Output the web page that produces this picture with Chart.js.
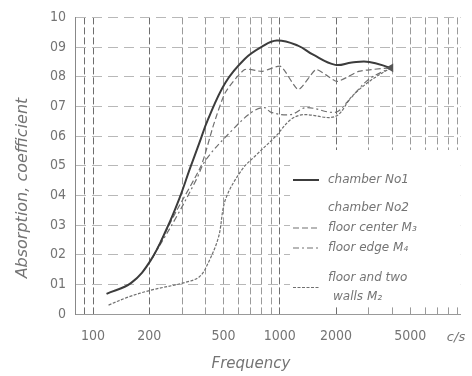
<!DOCTYPE html>
<html>
<head>
<meta charset="utf-8">
<script src="https://cdn.jsdelivr.net/npm/chart.js@4.4.1/dist/chart.umd.min.js"></script>
<style>
  html, body { margin: 0; padding: 0; background: #fff; }
  #wrap { width: 472px; height: 376px; }
</style>
</head>
<body>
<div id="wrap"><canvas id="absorptionChart" width="472" height="376"></canvas></div>
<script>
// Frequencies in c/s, values are absorption coefficients
const chamber1Freq = [118, 160, 203, 249, 290, 330, 370, 412, 511, 649, 796, 964, 1250, 1500, 1982, 2427, 3013, 3928];
const chamber1Abs  = [0.068, 0.105, 0.18, 0.29, 0.39, 0.49, 0.575, 0.655, 0.78, 0.86, 0.90, 0.922, 0.905, 0.875, 0.84, 0.848, 0.85, 0.83];

const centerFreq = [208, 281, 379, 443, 511, 649, 805, 1011, 1256, 1559, 1758, 2030, 2641, 3090, 3928];
const centerAbs  = [0.19, 0.35, 0.50, 0.64, 0.747, 0.824, 0.818, 0.835, 0.757, 0.824, 0.807, 0.784, 0.818, 0.824, 0.83];

const edgeFreq = [208, 281, 357, 402, 556, 707, 826, 898, 1141, 1384, 1982, 2286, 2977, 3928];
const edgeAbs  = [0.19, 0.33, 0.453, 0.52, 0.62, 0.68, 0.696, 0.68, 0.672, 0.696, 0.68, 0.713, 0.79, 0.83];

const wallsFreq = [121, 154, 203, 305, 370, 412, 470, 511, 626, 750, 953, 1141, 1334, 1982, 2428, 3013, 3928];
const wallsAbs  = [0.03, 0.057, 0.08, 0.105, 0.125, 0.17, 0.26, 0.385, 0.486, 0.537, 0.60, 0.655, 0.672, 0.666, 0.733, 0.784, 0.83];

const xGridFreqs = [80, 90, 100, 200, 300, 400, 500, 600, 700, 800, 900, 1000,
                    2000, 3000, 4000, 5000, 6000, 7000, 8000, 9000];
const xLabelled = [100, 200, 500, 1000, 2000, 5000];
const xStrongLines = [90, 100, 200, 1000, 2000];
const yTickLabels = ['0', '01', '02', '03', '04', '05', '06', '07', '08', '09', '10'];
const legendHeading = 'chamber No2';

const FONT = "'Liberation Sans Narrow', 'DejaVu Sans Condensed', sans-serif";
const HAND = "'DejaVu Sans', sans-serif";
const INK = '#747474';

function toPoints(freqs, values) {
    return freqs.map((f, i) => ({ x: f, y: values[i] }));
}

// titles, in-plot legend and the blank panel behind it
const annotations = {
    id: 'annotations',
    beforeDatasetsDraw(chart) {
        const { ctx, chartArea } = chart;
        ctx.save();
        ctx.fillStyle = '#fff';
        ctx.fillRect(290, 150, chartArea.right - 290, 156);
        ctx.restore();
    },
    afterDraw(chart) {
        const { ctx } = chart;
        ctx.save();
        ctx.fillStyle = INK;
        ctx.textBaseline = 'middle';

        // axis titles
        ctx.font = 'italic 15px ' + HAND;
        ctx.textAlign = 'center';
        ctx.fillText('Frequency', 251, 364);
        ctx.font = 'italic 13px ' + HAND;
        ctx.fillText('c/s', 456, 338);
        ctx.save();
        ctx.translate(23, 188);
        ctx.rotate(-Math.PI / 2);
        ctx.font = 'italic 16px ' + HAND;
        ctx.fillText('Absorption, coefficient', 0, 0);
        ctx.restore();

        // legend
        ctx.textAlign = 'left';
        ctx.font = 'italic 12px ' + HAND;
        const rowTop = [180, 228, 248, 278];
        chart.data.datasets.forEach((ds, i) => {
            const lines = ds.label.split('\n');
            const y0 = rowTop[i];
            const midY = y0 + (lines.length - 1) * 9.5;
            ctx.save();
            ctx.strokeStyle = ds.borderColor;
            ctx.lineWidth = ds.borderWidth;
            ctx.setLineDash(ds.borderDash || []);
            ctx.beginPath();
            ctx.moveTo(293, midY);
            ctx.lineTo(319, midY);
            ctx.stroke();
            ctx.restore();
            lines.forEach((t, k) => ctx.fillText(t, 328 + k * 5, y0 + k * 19));
        });
        ctx.fillText(legendHeading, 328, 208);
        ctx.restore();
    }
};

new Chart(document.getElementById('absorptionChart'), {
    type: 'line',
    data: {
        datasets: [
            {
                label: 'chamber No1',
                data: toPoints(chamber1Freq, chamber1Abs),
                borderColor: '#3c3c3c',
                borderWidth: 2,
                tension: 0.4,
                pointRadius: (c) => c.dataIndex === chamber1Freq.length - 1 ? 3 : 0,
                pointStyle: 'triangle',
                pointRotation: 30,
                pointBackgroundColor: '#555',
                pointBorderColor: '#555'
            },
            {
                label: 'floor center M₃',
                data: toPoints(centerFreq, centerAbs),
                borderColor: '#707070',
                borderWidth: 1.2,
                borderDash: [6, 3],
                tension: 0.2,
                pointRadius: 0
            },
            {
                label: 'floor edge M₄',
                data: toPoints(edgeFreq, edgeAbs),
                borderColor: '#707070',
                borderWidth: 1.2,
                borderDash: [6, 3, 2, 3],
                tension: 0.35,
                pointRadius: 0
            },
            {
                label: 'floor and two\nwalls M₂',
                data: toPoints(wallsFreq, wallsAbs),
                borderColor: '#707070',
                borderWidth: 1.2,
                borderDash: [3, 1.5],
                tension: 0.35,
                pointRadius: 0
            }
        ]
    },
    options: {
        responsive: false,
        animation: false,
        layout: { padding: { top: 17, right: 0, bottom: 0, left: 0 } },
        plugins: {
            legend: { display: false },
            tooltip: { enabled: false }
        },
        scales: {
            x: {
                type: 'logarithmic',
                min: 80,
                max: 9300,
                afterBuildTicks: (axis) => {
                    axis.ticks = xGridFreqs.map((v) => ({ value: v }));
                },
                afterFit: (axis) => { axis.height = 62; },
                ticks: {
                    autoSkip: false,
                    maxRotation: 0,
                    padding: 14,
                    color: INK,
                    font: { family: FONT, size: 14 },
                    callback: (v) => xLabelled.includes(v) ? String(v) : ''
                },
                grid: {
                    drawTicks: false,
                    color: (c) => xStrongLines.includes(c.tick && c.tick.value) ? '#6e6e6e' : '#9a9a9a',
                    lineWidth: 1
                },
                border: { display: true, color: '#999', dash: [7, 3] }
            },
            y: {
                min: 0,
                max: 1,
                afterFit: (axis) => { axis.width = 75; },
                ticks: {
                    stepSize: 0.1,
                    padding: 9,
                    color: INK,
                    font: { family: FONT, size: 14 },
                    callback: (v) => yTickLabels[Math.round(v * 10)]
                },
                grid: {
                    drawTicks: false,
                    color: '#b8b8b8',
                    lineWidth: 1
                },
                border: { display: true, color: '#888', dash: [10, 6] }
            }
        }
    },
    plugins: [annotations]
});
</script>
</body>
</html>
